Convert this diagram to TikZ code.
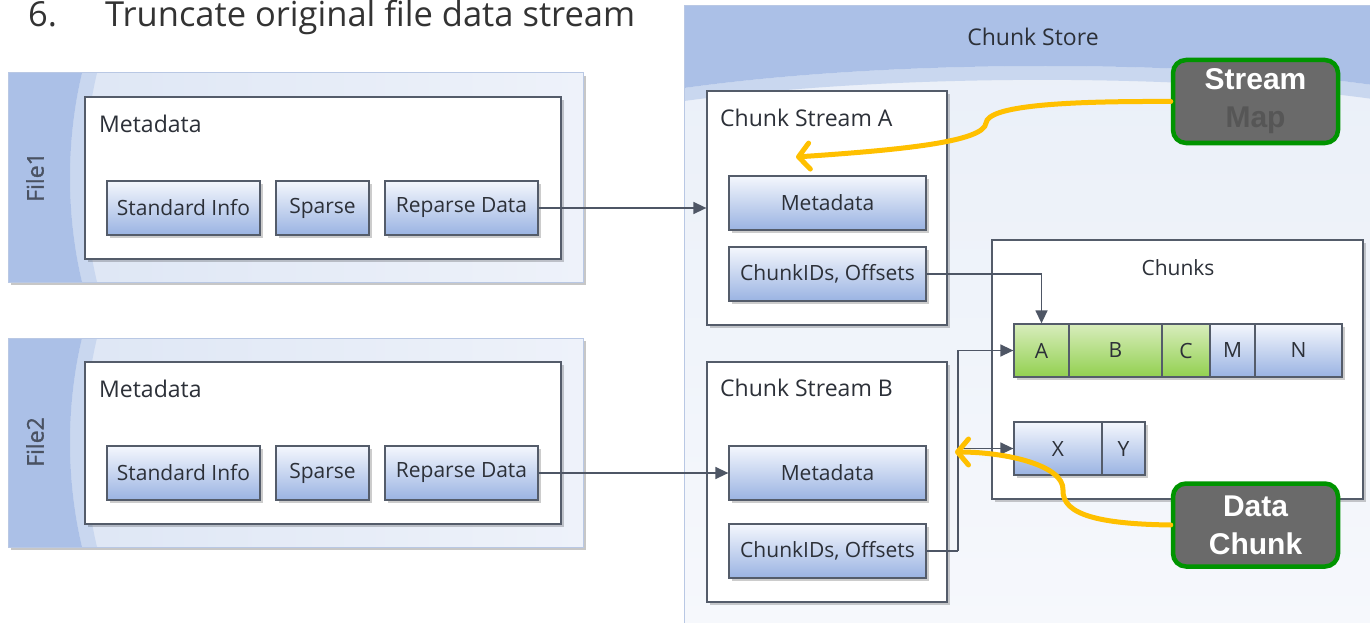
\documentclass[tikz,border=0pt]{standalone}
\usepackage{fontspec}
\setmainfont{Open Sans}
\newfontfamily\calloutfont{Liberation Sans}
\newfontfamily\filefont{Open Sans}[FakeBold=1.2]
\usetikzlibrary{arrows.meta,shadows,calc}
\definecolor{banddark}{HTML}{ABC0E7}
\definecolor{bandlight}{HTML}{C9D7EF}
\definecolor{panelL}{HTML}{DCE5F4}
\definecolor{panelR}{HTML}{EEF2FA}
\definecolor{paneledge}{HTML}{B9C8E4}
\definecolor{storetop}{HTML}{E9EFF8}
\definecolor{storebot}{HTML}{F6F8FC}
\definecolor{bordc}{HTML}{545C6A}
\definecolor{connc}{HTML}{4E5665}
\definecolor{boxtop}{HTML}{F4F7FD}
\definecolor{boxbot}{HTML}{9AB3E2}
\definecolor{greentop}{HTML}{D8EDBC}
\definecolor{greenbot}{HTML}{92D050}
\definecolor{txt}{HTML}{2C3038}
\definecolor{titlec}{HTML}{333333}
\definecolor{yel}{HTML}{FFC000}
\definecolor{calfill}{HTML}{6A6A6A}
\definecolor{calgreen}{HTML}{009400}
\definecolor{mapc}{HTML}{565656}
\definecolor{filec}{HTML}{4A5262}
\tikzset{
  shad/.style={drop shadow={shadow xshift=3pt,shadow yshift=-3pt,fill=black,opacity=0.2}},
  container/.style={draw=bordc, line width=1.3pt, fill=white, shad, inner sep=0pt},
  bluebox/.style={draw=bordc, line width=1.3pt, top color=boxtop, bottom color=boxbot, shad,
     inner sep=0pt, minimum height=54pt, text=txt, font=\fontsize{21}{25}\selectfont},
  cell/.style={bluebox, minimum height=53pt},
  greencell/.style={cell, top color=greentop, bottom color=greenbot},
  lbl/.style={anchor=base west, inner sep=0pt, text=txt, font=\fontsize{23}{27}\selectfont},
  conn/.style={draw=connc, line width=1.5pt, -{Triangle[length=13pt,width=12pt]}},
  line/.style={draw=connc, line width=1.5pt},
  yarrow/.style={draw=yel, line width=5pt, line cap=round, -{Straight Barb[length=11pt,width=26pt,round]}},
  callout/.style={draw=calgreen, line width=4.5pt, fill=calfill, rounded corners=13pt,
     minimum width=165pt, minimum height=83pt, inner sep=0pt, align=center,
     font=\calloutfont\bfseries\fontsize{30}{38}\selectfont},
  filelbl/.style={rotate=90, text=filec, font=\filefont\fontsize{23}{27}\selectfont}
}
\begin{document}
\begin{tikzpicture}[x=1pt,y=-1pt]
\clip (0,0) rectangle (1370,623);
\fill[white] (0,0) rectangle (1370,623);

% title
\node[anchor=base west, inner sep=0pt, text=titlec, font=\fontsize{34.5}{40}\selectfont] (tnum) at (28,27) {6.};
\node[anchor=base west, inner sep=0pt, text=titlec, font=\fontsize{34.5}{40}\selectfont] (ttl) at (105,27) {Truncate original file data stream};

% ---------- File1 panel ----------
\fill[black!22] (11,76) rectangle (586,285);
\fill[left color=panelL, right color=panelR] (8,73) rectangle (583,282);
\fill[bandlight] (82,73) .. controls (66,140) and (66,215) .. (82,282) -- (97,282) .. controls (81,215) and (81,140) .. (97,73) -- cycle;
\fill[banddark] (8,73) -- (82,73) .. controls (66,140) and (66,215) .. (82,282) -- (8,282) -- cycle;
\draw[paneledge, line width=1pt] (8,73) rectangle (583,282);
\node[filelbl] (f1) at (35,177) {File1};

\node[container, minimum width=476pt, minimum height=162pt] (md1) at (323,178) {};
\node[lbl] (md1l) at (99,132) {Metadata};
\node[bluebox, minimum width=153pt] (si1) at (183.5,208) {Standard Info};
\node[bluebox, minimum width=93pt] (sp1) at (322.5,208) {Sparse};
\node[bluebox, minimum width=153pt] (ri1) at (461.5,208) {Reparse Data};

% ---------- File2 panel ----------
\fill[black!22] (11,341) rectangle (586,550);
\fill[left color=panelL, right color=panelR] (8,338) rectangle (583,547);
\fill[bandlight] (82,338) .. controls (66,405) and (66,480) .. (82,547) -- (97,547) .. controls (81,480) and (81,405) .. (97,338) -- cycle;
\fill[banddark] (8,338) -- (82,338) .. controls (66,405) and (66,480) .. (82,547) -- (8,547) -- cycle;
\draw[paneledge, line width=1pt] (8,338) rectangle (583,547);
\node[filelbl] (f2) at (35,442) {File2};

\node[container, minimum width=476pt, minimum height=162pt] (md2) at (323,443) {};
\node[lbl] (md2l) at (99,397) {Metadata};
\node[bluebox, minimum width=153pt] (si2) at (183.5,473) {Standard Info};
\node[bluebox, minimum width=93pt] (sp2) at (322.5,473) {Sparse};
\node[bluebox, minimum width=153pt] (ri2) at (461.5,473) {Reparse Data};

% ---------- Chunk Store ----------
\fill[top color=storetop, bottom color=storebot] (684,6) rectangle (1380,630);
\fill[bandlight] (684,88) .. controls (900,58) and (1200,60) .. (1380,86) -- (1380,100) .. controls (1200,74) and (900,72) .. (684,101) -- cycle;
\fill[banddark] (684,6) -- (1380,6) -- (1380,86) .. controls (1200,60) and (900,58) .. (684,88) -- cycle;
\draw[paneledge, line width=1pt] (684,630) -- (684,6) -- (1380,6);
\node[text=txt, font=\fontsize{23}{27}\selectfont] (cst) at (1033,37) {Chunk Store};

% Chunk Stream A
\node[container, minimum width=240pt, minimum height=234pt] (csA) at (827,208) {};
\node[lbl] (csAl) at (720,127) {Chunk Stream A};
\node[bluebox, minimum width=197pt] (mdA) at (827.5,203) {Metadata};
\node[bluebox, minimum width=197pt] (ciA) at (827.5,274) {ChunkIDs, Offsets};

% Chunk Stream B
\node[container, minimum width=240pt, minimum height=240pt] (csB) at (827,482) {};
\node[lbl] (csBl) at (720,396) {Chunk Stream B};
\node[bluebox, minimum width=197pt] (mdB) at (827.5,473) {Metadata};
\node[bluebox, minimum width=197pt] (ciB) at (827.5,551) {ChunkIDs, Offsets};

% Chunks
\node[container, minimum width=371pt, minimum height=259pt] (ch) at (1177.5,369.5) {};
\node[text=txt, font=\fontsize{21}{25}\selectfont] (chl) at (1178,268) {Chunks};
\node[greencell, minimum width=55pt] (cA) at (1041.5,350.5) {A};
\node[greencell, minimum width=93pt] (cB) at (1115.5,350.5) {B};
\node[greencell, minimum width=48pt] (cC) at (1186,350.5) {C};
\node[cell, minimum width=45pt] (cM) at (1232.5,350.5) {M};
\node[cell, minimum width=87pt] (cN) at (1298.5,350.5) {N};
\node[cell, minimum width=88pt] (cX) at (1058,448.5) {X};
\node[cell, minimum width=43pt] (cY) at (1123.5,448.5) {Y};

% connectors
\draw[conn] (ri1.east) -- (ri1.east -| csA.west);
\draw[conn] (ri2.east) -- (mdB.west);
\draw[conn] (ciA.east) -| (cA.north);
\coordinate (jB) at (958,551);
\draw[line] (ciB.east) -- (jB);
\draw[conn] (jB) |- (cA.west);
\draw[conn] (jB |- cX.west) -- (cX.west);

% callouts
\node[callout] (sm) at (1255.5,101.5) {\textcolor{white}{Stream}\\\textcolor{mapc}{Map}};
\node[callout] (dc) at (1255.5,525) {\textcolor{white}{Data}\\\textcolor{white}{Chunk}};
\coordinate (tipA) at (796,157);
\coordinate (tipB) at (955,452);
\draw[yarrow] (sm.west) .. controls (1060,101) and (988,106) .. (986,123) .. controls (984,142) and (900,150) .. (tipA);
\draw[yarrow] (dc.west) .. controls (1100,524) and (1062,515) .. (1063,490) .. controls (1064,465) and (1005,452) .. (tipB);
\end{tikzpicture}
\end{document}
